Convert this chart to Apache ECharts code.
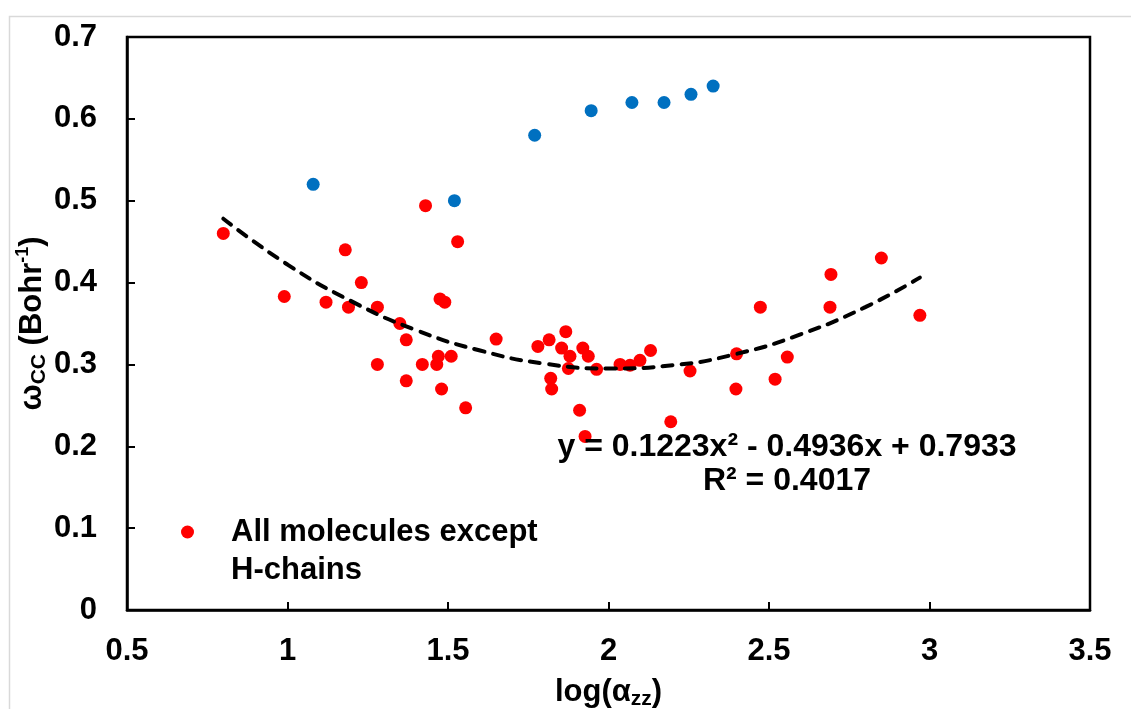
<!DOCTYPE html>
<html>
<head>
<meta charset="utf-8">
<script src="https://cdn.jsdelivr.net/npm/echarts@6/dist/echarts.min.js"></script>
<style>
html,body{margin:0;padding:0;background:#fff;}
#chart{width:1131px;height:709px;}
</style>
</head>
<body>
<div id="chart"></div>
<script>
// Red series: all molecules except H-chains
const redX = [0.80,1.18,1.23,0.99,1.12,1.19,1.28,1.35,1.37,1.43,1.53,1.475,1.49,1.65,1.28,1.37,1.42,1.47,1.465,1.51,1.48,1.555,1.78,1.815,1.867,1.854,1.88,1.875,1.92,1.937,1.963,1.82,1.823,1.91,1.927,2.036,2.067,2.098,2.131,2.194,2.254,2.399,2.397,2.473,2.519,2.557,2.693,2.69,2.85,2.97];
const redY = [0.46,0.44,0.40,0.383,0.376,0.37,0.37,0.35,0.33,0.494,0.45,0.38,0.376,0.331,0.30,0.28,0.30,0.31,0.30,0.31,0.27,0.247,0.322,0.33,0.34,0.32,0.31,0.295,0.32,0.31,0.294,0.283,0.27,0.244,0.212,0.30,0.299,0.305,0.317,0.23,0.292,0.313,0.27,0.37,0.282,0.309,0.41,0.37,0.43,0.36];
// Blue series: H-chains
const blueX = [1.08,1.52,1.77,1.946,2.073,2.173,2.257,2.326];
const blueY = [0.52,0.50,0.58,0.61,0.62,0.62,0.63,0.64];
// Dashed trend curve
const trendX = [0.80,1.0,1.2,1.4,1.6,1.8,2.0,2.2,2.4,2.6,2.8,2.97];
const trendY = [0.478,0.422,0.377,0.342,0.317,0.301,0.295,0.299,0.313,0.337,0.370,0.406];
// Axis ticks
const xTicks = [0.5,1,1.5,2,2.5,3,3.5];
const yTicks = [0,0.1,0.2,0.3,0.4,0.5,0.6,0.7];
// Texts
const eqLine1 = 'y = 0.1223x² - 0.4936x + 0.7933';
const eqLine2 = 'R² = 0.4017';
const redName = 'All molecules except H-chains';

const FONT = "'Liberation Sans', Arial, sans-serif";
const zip = (a, b) => a.map((v, i) => [v, b[i]]);

const chart = echarts.init(document.getElementById('chart'), null, {renderer: 'canvas'});
chart.setOption({
  backgroundColor: '#fff',
  animation: false,
  textStyle: {fontFamily: FONT},
  grid: {left: 127, top: 37, right: 41, bottom: 99, show: true, borderColor: '#000', borderWidth: 2.5,
    backgroundColor: '#fff', containLabel: false, outerBoundsMode: 'none'},
  xAxis: {
    type: 'value', min: xTicks[0], max: xTicks[xTicks.length - 1], interval: 0.5,
    splitLine: {show: false},
    axisLine: {show: true, lineStyle: {color: '#000', width: 2.5}},
    axisTick: {show: true, inside: true, length: 8, lineStyle: {color: '#000', width: 2}},
    axisLabel: {margin: 26, color: '#000', fontSize: 31, fontWeight: 'bold', fontFamily: FONT,
      formatter: v => String(v)},
    name: '{a|log(α}{s|zz}{a|)}',
    nameLocation: 'middle', nameGap: 64, nameMoveOverlap: false,
    nameTextStyle: {
      rich: {
        a: {fontSize: 31, fontWeight: 'bold', color: '#000', fontFamily: FONT, lineHeight: 36},
        s: {fontSize: 21, fontWeight: 'bold', color: '#000', fontFamily: FONT, lineHeight: 21, verticalAlign: 'bottom'}
      }
    }
  },
  yAxis: {
    type: 'value', min: yTicks[0], max: yTicks[yTicks.length - 1], interval: 0.1,
    splitLine: {show: false},
    axisLine: {show: true, lineStyle: {color: '#000', width: 2.5}},
    axisTick: {show: true, inside: true, length: 8, lineStyle: {color: '#000', width: 2}},
    axisLabel: {margin: 30, color: '#000', fontSize: 31, fontWeight: 'bold', fontFamily: FONT,
      formatter: v => String(Math.round(v * 10) / 10)},
    name: '{a|ω}{s|CC}{a| (Bohr}{p|-1}{a|)}',
    nameLocation: 'middle', nameGap: 77, nameMoveOverlap: false,
    nameTextStyle: {
      rich: {
        a: {fontSize: 31, fontWeight: 'bold', color: '#000', fontFamily: FONT, lineHeight: 36},
        s: {fontSize: 21, fontWeight: 'bold', color: '#000', fontFamily: FONT, lineHeight: 21, verticalAlign: 'bottom'},
        p: {fontSize: 18, fontWeight: 'bold', color: '#000', fontFamily: FONT, lineHeight: 18, verticalAlign: 'top'}
      }
    }
  },
  legend: {
    data: [redName],
    left: 181, top: 475, padding: 0,
    icon: 'circle', itemWidth: 13, itemHeight: 13,
    formatter: () => '\nAll molecules except\nH-chains',
    textStyle: {fontSize: 31, fontWeight: 'bold', color: '#000', fontFamily: FONT, lineHeight: 38, padding: [0, 0, 0, 32]}
  },
  series: [
    {
      name: redName, type: 'scatter', data: zip(redX, redY),
      symbol: 'circle', symbolSize: 13, itemStyle: {color: '#FF0000', opacity: 1}, z: 3
    },
    {
      name: 'H-chains', type: 'scatter', data: zip(blueX, blueY),
      symbol: 'circle', symbolSize: 13, itemStyle: {color: '#0070C0', opacity: 1}, z: 3
    },
    {
      name: 'Poly. (' + redName + ')', type: 'line', data: zip(trendX, trendY),
      smooth: true, showSymbol: false, symbol: 'none',
      lineStyle: {color: '#000', width: 4, type: [10, 9], cap: 'round'}, z: 4
    }
  ],
  graphic: [
    {type: 'rect', left: 7, top: 14, z: -10, silent: true,
      shape: {width: 1140, height: 720}, style: {fill: 'none', stroke: '#d9d9d9', lineWidth: 1.5}},
    {type: 'text', x: 787, y: 447, z: 10, silent: true,
      style: {text: eqLine1, fontSize: 32, fontWeight: 'bold', fontFamily: FONT, fill: '#000', align: 'center', verticalAlign: 'middle'}},
    {type: 'text', x: 787, y: 481, z: 10, silent: true,
      style: {text: eqLine2, fontSize: 32, fontWeight: 'bold', fontFamily: FONT, fill: '#000', align: 'center', verticalAlign: 'middle'}}
  ]
});
</script>
</body>
</html>
